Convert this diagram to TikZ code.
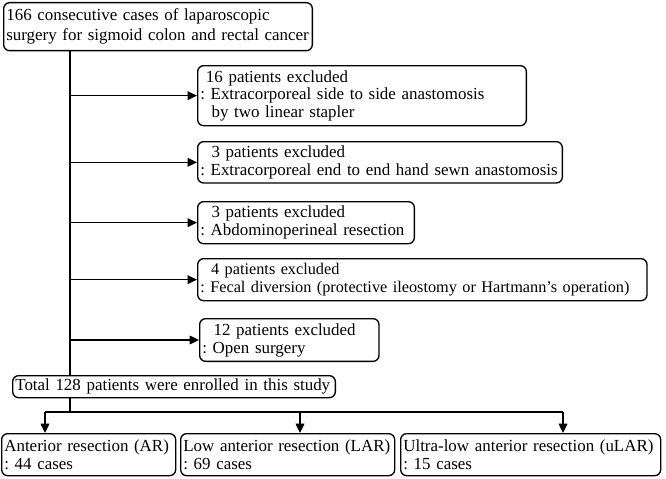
\documentclass[tikz,border=0pt]{standalone}
\usepackage{fontspec}
\setmainfont{Liberation Serif}
\usetikzlibrary{arrows.meta}
\frenchspacing
\tikzset{box/.style={draw, rounded corners=4.5pt, line width=1pt, anchor=north west, align=left, inner xsep=2pt, inner ysep=0pt, font=\fontsize{12.7}{13.5}\selectfont},
         link/.style={line width=1pt, -{Triangle[length=7pt,width=6.5pt]}}}

\begin{document}
\begin{tikzpicture}[x=0.75pt,y=-0.75pt]
  \useasboundingbox (0,0) rectangle (666,478);
  % main boxes
  \node[box, text width=227.5pt, minimum height=36pt, font=\fontsize{12.7}{15}\selectfont] (top) at (3,2) {166 consecutive cases of laparoscopic\\surgery for sigmoid colon and rectal cancer};
  \node[box, text width=242.5pt, minimum height=45pt, font=\fontsize{12.7}{13}\selectfont] (ex1) at (197,65) {~16 patients excluded\\: Extracorporeal side to side anastomosis\\~~by two linear stapler};
  \node[box, text width=269.5pt, minimum height=31pt] (ex2) at (197,141) {~~3 patients excluded\\: Extracorporeal end to end hand sewn anastomosis};
  \node[box, text width=158.5pt, minimum height=31.5pt] (ex3) at (197,201) {~~3 patients excluded\\: Abdominoperineal resection};
  \node[box, text width=333pt, minimum height=31.5pt, font=\fontsize{12.2}{13.5}\selectfont] (ex4) at (197,258) {~~4 patients excluded\\\mbox{: Fecal diversion (protective ileostomy or Hartmann's operation)}};
  \node[box, text width=130.5pt, minimum height=32pt] (ex5) at (199,318) {~~12 patients excluded\\: Open surgery};
  \node[box, text width=238pt, minimum height=16.5pt] (total) at (12,375) {Total 128 patients were enrolled in this study};
  \node[box, text width=126.5pt, minimum height=31.5pt] (ar) at (1,433) {Anterior resection (AR)\\: 44 cases};
  \node[box, text width=156.5pt, minimum height=31.5pt] (lar) at (180,433) {Low anterior resection (LAR)\\: 69 cases};
  \node[box, text width=191pt, minimum height=31.5pt] (ular) at (400,433) {Ultra-low anterior resection (uLAR)\\: 15 cases};

  % trunk and branches
  \coordinate (trunk) at (70,50);
  \coordinate (split) at (70,412);
  \coordinate (s1) at (45,412);
  \coordinate (s2) at (300,412);
  \coordinate (s3) at (563,412);
  \draw[line width=1pt] (trunk) -- (trunk |- total.north);
  \foreach \n in {ex1,ex2,ex3,ex4,ex5}
    \draw[link] (trunk |- \n.west) -- (\n.west);
  \draw[line width=1pt] (split |- total.south) -- (split);
  \draw[line width=1pt] (s1) -- (s3);
  \draw[link] (s1) -- (s1 |- ar.north);
  \draw[link] (s2) -- (s2 |- lar.north);
  \draw[link] (s3) -- (s3 |- ular.north);
\end{tikzpicture}
\end{document}
